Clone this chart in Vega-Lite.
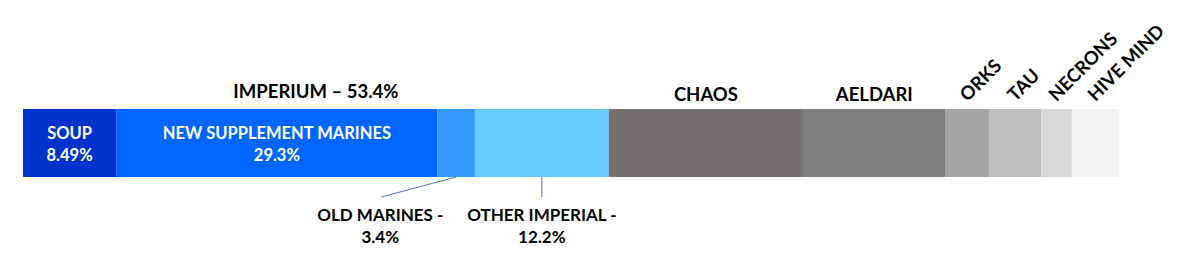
{
  "$schema": "https://vega.github.io/schema/vega-lite/v6.json",
  "width": 1096,
  "height": 259,
  "autosize": "none",
  "padding": {"left": 23, "top": 0, "right": 82, "bottom": 0},
  "background": "white",
  "config": {"view": {"stroke": null}, "text": {"font": "Lato", "fontWeight": "bold"}},
  "data": {
    "values": [
      {"name": "SOUP", "group": "IMPERIUM", "value": 8.49},
      {"name": "NEW SUPPLEMENT MARINES", "group": "IMPERIUM", "value": 29.3},
      {"name": "OLD MARINES", "group": "IMPERIUM", "value": 3.4},
      {"name": "OTHER IMPERIAL", "group": "IMPERIUM", "value": 12.2},
      {"name": "CHAOS", "group": "CHAOS", "value": 17.7},
      {"name": "AELDARI", "group": "AELDARI", "value": 13.0},
      {"name": "ORKS", "group": "ORKS", "value": 4.0},
      {"name": "TAU", "group": "TAU", "value": 4.7},
      {"name": "NECRONS", "group": "NECRONS", "value": 2.8},
      {"name": "HIVE MIND", "group": "HIVE MIND", "value": 4.3}
    ]
  },
  "transform": [
    {"window": [{"op": "row_number", "as": "rank"}]},
    {"stack": "value", "groupby": [], "sort": [{"field": "rank", "order": "ascending"}], "as": ["x0", "x1"]},
    {"calculate": "(datum.x0 + datum.x1) / 2", "as": "mid"}
  ],
  "layer": [
    {
      "mark": {"type": "bar"},
      "encoding": {
        "x": {"field": "x0", "type": "quantitative", "scale": {"domain": [0, 99.89], "nice": false, "zero": false}, "axis": null},
        "x2": {"field": "x1"},
        "y": {"datum": 0, "type": "quantitative", "scale": {"domain": [-1.2059, 2.6029], "nice": false, "zero": false}, "axis": null},
        "y2": {"datum": 1},
        "color": {
          "field": "name", "type": "nominal", "legend": null,
          "scale": {
            "domain": ["SOUP", "NEW SUPPLEMENT MARINES", "OLD MARINES", "OTHER IMPERIAL", "CHAOS", "AELDARI", "ORKS", "TAU", "NECRONS", "HIVE MIND"],
            "range": ["#0033CC", "#0066FF", "#3399FF", "#66CCFF", "#767171", "#7F7F7F", "#A6A6A6", "#BFBFBF", "#D9D9D9", "#F2F2F2"]
          }
        }
      }
    },
    {
      "transform": [{"filter": "indexof(['SOUP','NEW SUPPLEMENT MARINES'], datum.name) >= 0"}, {"calculate": "[datum.name, datum.value + '%']", "as": "lbl"}],
      "mark": {"type": "text", "color": "white", "fontSize": 16.5, "baseline": "middle", "lineHeight": 22, "align": "center"},
      "encoding": {
        "x": {"field": "mid", "type": "quantitative"},
        "y": {"datum": 0.63, "type": "quantitative"},
        "text": {"field": "lbl"}
      }
    },
    {
      "transform": [{"filter": "indexof(['CHAOS','AELDARI'], datum.name) >= 0"}],
      "mark": {"type": "text", "color": "black", "fontSize": 18.5, "baseline": "alphabetic", "align": "center"},
      "encoding": {
        "x": {"field": "mid", "type": "quantitative"},
        "y": {"datum": 1.12, "type": "quantitative"},
        "text": {"field": "name"}
      }
    },
    {
      "transform": [{"filter": "datum.group === 'IMPERIUM'"}, {"aggregate": [{"op": "sum", "field": "value", "as": "total"}], "groupby": ["group"]}, {"calculate": "datum.total / 2", "as": "half"}, {"calculate": "datum.group + ' – ' + format(datum.total, '.1f') + '%'", "as": "lbl"}],
      "mark": {"type": "text", "color": "black", "fontSize": 18.5, "baseline": "alphabetic", "align": "center"},
      "encoding": {
        "x": {"field": "half", "type": "quantitative"},
        "y": {"datum": 1.16, "type": "quantitative"},
        "text": {"field": "lbl"}
      }
    },
    {
      "transform": [{"filter": "indexof(['ORKS','TAU','NECRONS','HIVE MIND'], datum.name) >= 0"}],
      "mark": {"type": "text", "color": "black", "fontSize": 18.5, "baseline": "alphabetic", "align": "left", "angle": -45, "dx": 0},
      "encoding": {
        "x": {"field": "mid", "type": "quantitative"},
        "y": {"datum": 1.1, "type": "quantitative"},
        "text": {"field": "name"}
      }
    },
    {
      "transform": [{"filter": "datum.name === 'OTHER IMPERIAL'"}],
      "mark": {"type": "rule", "color": "#4472C4", "strokeWidth": 1},
      "encoding": {
        "x": {"field": "mid", "type": "quantitative"},
        "y": {"datum": 0, "type": "quantitative"},
        "y2": {"datum": -0.294}
      }
    },
    {
      "transform": [{"filter": "datum.name === 'OLD MARINES'"}],
      "mark": {"type": "rule", "color": "#4472C4", "strokeWidth": 1, "x2Offset": -75},
      "encoding": {
        "x": {"field": "mid", "type": "quantitative"},
        "x2": {"field": "mid"},
        "y": {"datum": 0, "type": "quantitative"},
        "y2": {"datum": -0.294}
      }
    },
    {
      "transform": [{"filter": "datum.name === 'OTHER IMPERIAL'"}, {"calculate": "[datum.name + ' -', datum.value + '%']", "as": "lbl"}],
      "mark": {"type": "text", "color": "black", "fontSize": 17, "baseline": "middle", "lineHeight": 22, "align": "center"},
      "encoding": {
        "x": {"field": "mid", "type": "quantitative"},
        "y": {"datum": -0.574, "type": "quantitative"},
        "text": {"field": "lbl"}
      }
    },
    {
      "transform": [{"filter": "datum.name === 'OLD MARINES'"}, {"calculate": "[datum.name + ' -', datum.value + '%']", "as": "lbl"}],
      "mark": {"type": "text", "color": "black", "fontSize": 17, "baseline": "middle", "lineHeight": 22, "align": "center", "dx": -76},
      "encoding": {
        "x": {"field": "mid", "type": "quantitative"},
        "y": {"datum": -0.574, "type": "quantitative"},
        "text": {"field": "lbl"}
      }
    }
  ]
}
